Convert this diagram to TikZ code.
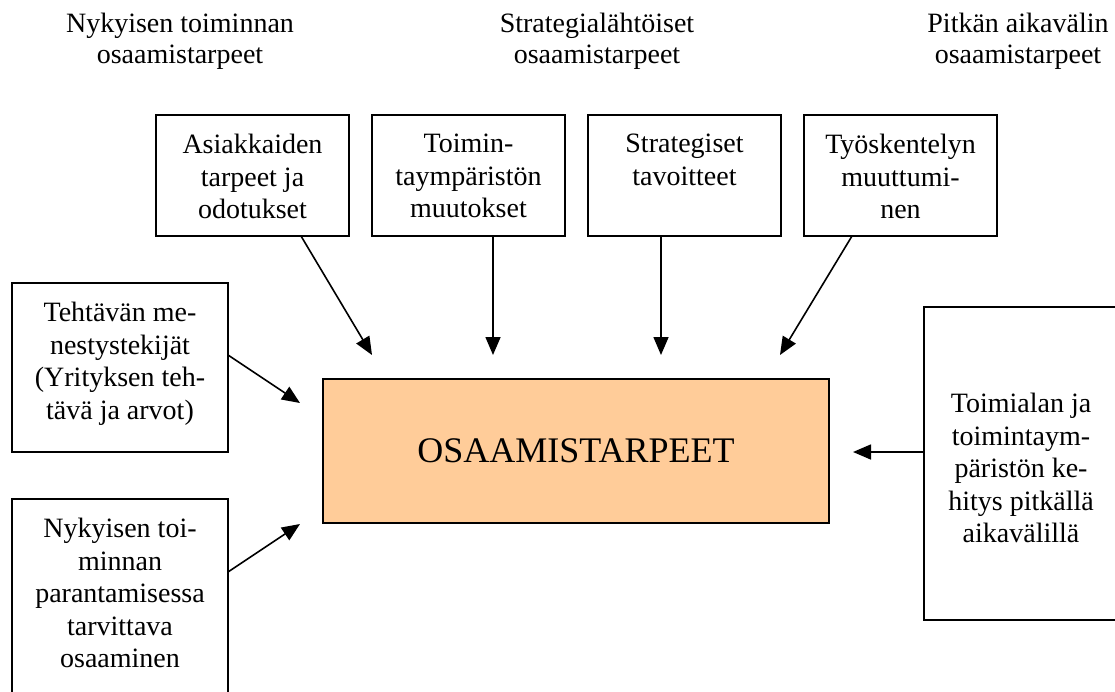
\documentclass[tikz,border=0pt]{standalone}
\usepackage{fontspec}
\setmainfont{Liberation Serif}
\usetikzlibrary{arrows.meta,positioning}
\definecolor{corefill}{RGB}{255,204,153}
\begin{document}
\begin{tikzpicture}[x=1pt,y=-1pt,
  frame/.style={draw=black, line width=1.4pt, rectangle, inner sep=0pt, outer sep=0pt},
  topbox/.style={frame, minimum width=193pt, minimum height=121pt},
  sidebox/.style={frame, minimum width=216pt},
  txt/.style={font=\fontsize{28}{32.5}\selectfont, align=center, inner sep=0pt},
  head/.style={font=\fontsize{28}{31}\selectfont, align=center, inner sep=0pt, anchor=north},
  arr/.style={line width=1.6pt, -{Triangle[length=18pt,width=15pt]}}
]
\useasboundingbox (0,0) rectangle (1115,691);
\clip (0,0) rectangle (1115,691);

% column headings
\node[head] (h1) at (180,13) {Nykyisen toiminnan\\osaamistarpeet};
\node[head] (h2) at (597,13) {Strategialähtöiset\\osaamistarpeet};
\node[head] (h3) at (1018,13) {Pitkän aikavälin\\osaamistarpeet};

% upper row of factor boxes
\node[topbox] (t1) at (252.5,175.5) {};
\node[topbox] (t2) at (468.5,175.5) {};
\node[topbox] (t3) at (684.5,175.5) {};
\node[topbox] (t4) at (900.5,175.5) {};
\node[txt, below=19pt of t1.north] (t1txt) {Asiakkaiden\\tarpeet ja\\odotukset};
\node[txt, below=19pt of t2.north] (t2txt) {Toimin-\\taympäristön\\muutokset};
\node[txt, below=19pt of t3.north] (t3txt) {Strategiset\\tavoitteet};
\node[txt, below=19pt of t4.north] (t4txt) {Työskentelyn\\muuttumi-\\nen};

% left-hand boxes
\node[sidebox, minimum height=169pt] (lA) at (120,367.5) {};
\node[sidebox, minimum height=201pt] (lB) at (120,599.5) {};
\node[txt, below=19pt of lA.north] (lAtxt) {Tehtävän me-\\nestystekijät\\(Yrityksen teh-\\tävä ja arvot)};
\node[txt, below=19pt of lB.north] (lBtxt) {Nykyisen toi-\\minnan\\parantamisessa\\tarvittava\\osaaminen};

% right-hand box
\node[frame, minimum width=194pt, minimum height=313pt] (rC) at (1021,463.5) {};
\node[txt, below=86pt of rC.north] (rCtxt) {Toimialan ja\\toimintaym-\\päristön ke-\\hitys pitkällä\\aikavälillä};

% central box
\node[frame, fill=corefill, minimum width=506pt, minimum height=144pt,
      font=\fontsize{36}{40}\selectfont] (core) at (576,451) {OSAAMISTARPEET};

% arrow tips around the central box
\coordinate (tip1) at (372,355);
\coordinate (tip2) at (493,355);
\coordinate (tip3) at (661,355);
\coordinate (tip4) at (780,355);
\coordinate (tipA) at (300,403);
\coordinate (tipB) at (300,524);
\coordinate (tipC) at (853,452);

\draw[arr] (t1.south -| 301,0) -- (tip1);
\draw[arr] (t2.south -| 493,0) -- (tip2);
\draw[arr] (t3.south -| 661,0) -- (tip3);
\draw[arr] (t4.south -| 852,0) -- (tip4);
\draw[arr] (lA.east |- 0,355) -- (tipA);
\draw[arr] (lB.east |- 0,572) -- (tipB);
\draw[arr] (rC.west |- 0,452) -- (tipC);
\end{tikzpicture}
\end{document}
